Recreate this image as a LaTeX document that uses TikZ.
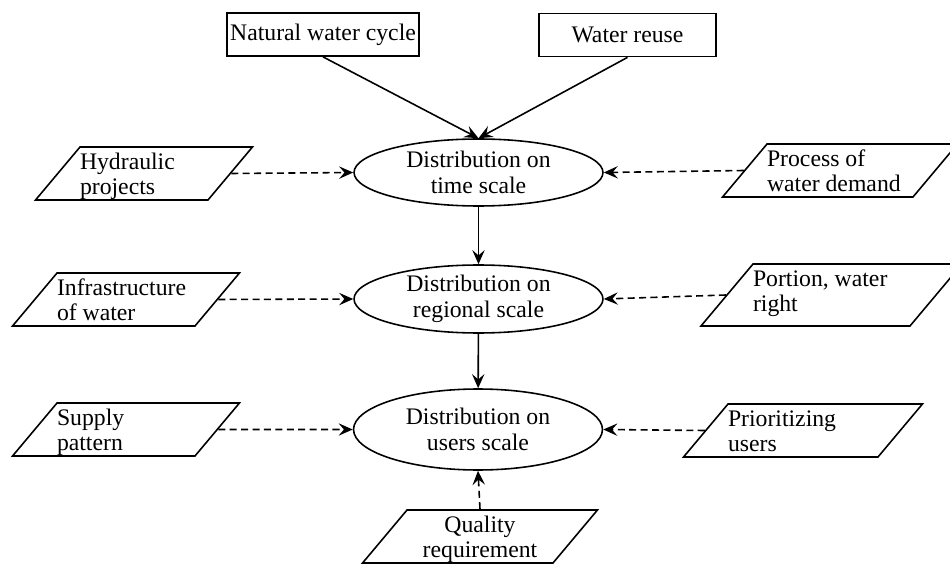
\documentclass[tikz,border=0pt]{standalone}
\usepackage{fontspec}
\setmainfont{Liberation Serif}
\usetikzlibrary{arrows.meta,shapes.geometric}
\tikzset{
	>={Stealth[length=8pt,width=7pt,inset=3pt]},
	every node/.style={font=\fontsize{13.5}{14.5}\selectfont},
	box/.style={draw,rectangle,line width=1pt,inner sep=0pt,minimum height=0.86cm},
	dist/.style={draw,ellipse,line width=0.9pt,align=flush center,inner sep=0pt,minimum width=4.98cm},
	factor/.style={draw,trapezium,trapezium left angle=50,trapezium right angle=130,
		trapezium stretches body,line width=0.9pt,inner sep=0pt,align=flush left,
		text height=0.45cm,text depth=0.61cm},
	flow/.style={->,line width=0.9pt},
	influence/.style={->,dashed,dash pattern=on 4pt off 2.5pt,line width=0.9pt}
}
\begin{document}
\begin{tikzpicture}[x=0.02cm,y=-0.02cm]
	\useasboundingbox (0,0) rectangle (950,564);
	\node[box,minimum width=3.84cm] (nat) at (323,34.5) {Natural water cycle};
	\node[box,minimum width=3.54cm] (reu) at (627.5,35) {Water reuse};
	
	\node[dist,minimum height=1.34cm] (time) at (478.5,172.5) {Distribution on\\time scale};
	\node[dist,minimum height=1.36cm] (reg) at (478.5,299) {Distribution on\\regional scale};
	\node[dist,minimum height=1.62cm] (usr) at (478,429.5) {Distribution on\\users scale};
	
	\node[factor,text width=2.56cm] (hyd) at (144,173.5) {Hydraulic\\projects};
	\node[factor,text width=2.92cm] (dem) at (840,170.5) {Process of\\water demand};
	\node[factor,text width=2.76cm] (inf) at (126,299.5) {Infrastructure\\of water};
	\node[factor,text width=3.14cm,text depth=0.79cm] (por) at (831.5,295) {Portion, water\\right};
	\node[factor,text width=2.76cm] (sup) at (126,429.5) {Supply\\pattern};
	\node[factor,text width=3cm] (pri) at (803,430.5) {Prioritizing\\users};
	\node[factor,text width=2.92cm,align=flush center] (qua) at (480,536.5) {Quality\\requirement};
	
	\draw[flow] (nat.south) -- (time.north);
	\draw[flow] (reu.south) -- (time.north);
	\draw[flow] (time) -- (reg);
	\draw[flow] (reg) -- (usr);
	
	\draw[influence] (hyd.east) -- (time.west);
	\draw[influence] (dem.west) -- (time.east);
	\draw[influence] (inf.east) -- (reg.west);
	\draw[influence] (por.west) -- (reg.east);
	\draw[influence] (sup.east) -- (usr.west);
	\draw[influence] (pri.west) -- (usr.east);
	\draw[influence] (qua.north) -- (usr.south);
\end{tikzpicture}
\end{document}
